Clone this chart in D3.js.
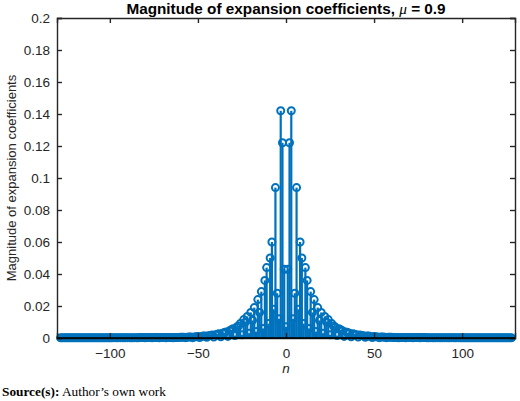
<!DOCTYPE html>
<html>
<head>
<meta charset="utf-8">
<script src="https://cdn.jsdelivr.net/npm/d3@7"></script>
<style>
  body { margin: 0; background: #fff; }
  svg { display: block; }
  .tick-label { font-family: "Liberation Sans", Arial, sans-serif; font-size: 13.5px; fill: #262626; }
</style>
</head>
<body>
<div id="chart"></div>
<script>
// data: stem index n and coefficient magnitude
const nValues = d3.range(-128, 129);

// magnitudes for n = -128 ... -1
const magNeg = [
  0.0001, 0.0001, 0.0001, 0.0001, 0.0001, 0.0001, 0.0001, 0.0001, 0.0001, 0.0001,
  0.0001, 0.0001, 0.0001, 0.0001, 0.0001, 0.0001, 0.0001, 0.0001, 0.0001, 0.0001,
  0.0001, 0.0001, 0.0001, 0.0001, 0.0001, 0.0001, 0.0001, 0.0001, 0.0001, 0.0001,
  0.0002, 0.0002, 0.0001, 0.0002, 0.0002, 0.0002, 0.0001, 0.0002, 0.0002, 0.0002,
  0.0001, 0.0002, 0.0002, 0.0002, 0.0001, 0.0003, 0.0003, 0.0003, 0.0001, 0.0003,
  0.0003, 0.0003, 0.0001, 0.0003, 0.0003, 0.0003, 0.0001, 0.0003, 0.0003, 0.0003,
  0.0001, 0.0003, 0.0003, 0.0003, 0.0001, 0.0003, 0.0003, 0.0003,
  0.0004, 0.0004, 0.0005, 0.0002, 0.0005, 0.0006, 0.0007, 0.0002, 0.0007, 0.0008,
  0.0009, 0.0003, 0.001, 0.0012, 0.0013, 0.0004, 0.0014, 0.0016, 0.0018, 0.0006,
  0.002, 0.0023, 0.0026, 0.0008, 0.003, 0.0034, 0.0038, 0.001, 0.0045, 0.0052,
  0.0058, 0.0015, 0.0068, 0.0075, 0.009, 0.002, 0.0115, 0.010, 0.0135, 0.003,
  0.016, 0.011, 0.019, 0.004, 0.024, 0.016, 0.029, 0.006, 0.036, 0.044,
  0.009, 0.050, 0.060, 0.018, 0.094, 0.028, 0.012, 0.142, 0.122, 0.043
];
// magnitude for n = 0
const magZero = [0.007];
// magnitudes for n = 1 ... 128
const magPos = [
  0.043, 0.122, 0.142, 0.012, 0.028, 0.094, 0.018, 0.060, 0.050, 0.009,
  0.044, 0.036, 0.006, 0.029, 0.016, 0.024, 0.004, 0.019, 0.011, 0.016,
  0.003, 0.0135, 0.010, 0.0115, 0.002, 0.009, 0.0075, 0.0068, 0.0015, 0.0058,
  0.0052, 0.0045, 0.001, 0.0038, 0.0034, 0.003, 0.0008, 0.0026, 0.0023, 0.002,
  0.0006, 0.0018, 0.0016, 0.0014, 0.0004, 0.0013, 0.0012, 0.001, 0.0003, 0.0009,
  0.0008, 0.0007, 0.0002, 0.0007, 0.0006, 0.0005, 0.0002, 0.0005, 0.0004, 0.0004,
  0.0003, 0.0003, 0.0003, 0.0001, 0.0003, 0.0003, 0.0003, 0.0001, 0.0003, 0.0003,
  0.0003, 0.0001, 0.0003, 0.0003, 0.0003, 0.0001, 0.0003, 0.0003, 0.0003, 0.0001,
  0.0002, 0.0002, 0.0002, 0.0001, 0.0002, 0.0002, 0.0002, 0.0001, 0.0002, 0.0002,
  0.0002, 0.0001, 0.0002, 0.0002, 0.0002, 0.0001, 0.0002, 0.0002, 0.0001, 0.0001,
  0.0001, 0.0001, 0.0001, 0.0001, 0.0001, 0.0001, 0.0001, 0.0001, 0.0001, 0.0001,
  0.0001, 0.0001, 0.0001, 0.0001, 0.0001, 0.0001, 0.0001, 0.0001, 0.0001, 0.0001,
  0.0001, 0.0001, 0.0001, 0.0001, 0.0001, 0.0001, 0.0001, 0.0001
];

const xTicks = [-100, -50, 0, 50, 100];
const yTicks = [0, 0.02, 0.04, 0.06, 0.08, 0.1, 0.12, 0.14, 0.16, 0.18, 0.2];

const magnitudes = magNeg.concat(magZero, magPos);
const data = nValues.map((n, i) => ({n: n, v: magnitudes[i]}));

// layout
const W = 520, H = 401;
const margin = {top: 18, right: 5, bottom: 63, left: 57};
const width = W - margin.left - margin.right;
const height = H - margin.top - margin.bottom;
const blue = '#0072BD';
const axisColor = '#262626';

const svg = d3.select('#chart').append('svg')
    .attr('width', W)
    .attr('height', H);

const g = svg.append('g')
    .attr('transform', 'translate(' + margin.left + ',' + margin.top + ')');

const xScale = d3.scaleLinear().domain([-130, 130]).range([0, width]);
const yScale = d3.scaleLinear().domain([0, 0.2]).range([height, 0]);

// stems
g.append('g').selectAll('line')
    .data(data)
    .join('line')
    .attr('x1', d => xScale(d.n))
    .attr('x2', d => xScale(d.n))
    .attr('y1', yScale(0))
    .attr('y2', d => yScale(d.v))
    .attr('stroke', blue)
    .attr('stroke-width', 2.2);

// hollow circle markers
g.append('g').selectAll('circle')
    .data(data)
    .join('circle')
    .attr('cx', d => xScale(d.n))
    .attr('cy', d => yScale(d.v))
    .attr('r', 3.5)
    .attr('fill', 'none')
    .attr('stroke', blue)
    .attr('stroke-width', 2);

// axes with inward ticks, box on all sides
const xAxis = d3.axisBottom(xScale).tickValues(xTicks).tickSize(-5).tickPadding(10)
    .tickFormat(d => d < 0 ? '\u2212' + Math.abs(d) : d);
const xAxisTop = d3.axisTop(xScale).tickValues(xTicks).tickSize(-5).tickFormat('');
const yAxis = d3.axisLeft(yScale).tickValues(yTicks).tickSize(-5).tickPadding(7)
    .tickFormat(d => d === 0 ? '0' : d3.format('')(+d.toFixed(2)));
const yAxisRight = d3.axisRight(yScale).tickValues(yTicks).tickSize(-5).tickFormat('');

function styleAxis(sel) {
    sel.selectAll('path').attr('stroke', axisColor).attr('stroke-width', 1.4);
    sel.selectAll('line').attr('stroke', axisColor).attr('stroke-width', 1.4);
    sel.selectAll('text').attr('class', 'tick-label').attr('fill', axisColor);
    sel.attr('font-size', null).attr('font-family', null);
}

g.append('g').attr('class', 'axis x-axis')
    .attr('transform', 'translate(0,' + height + ')')
    .call(xAxis).call(styleAxis);
g.append('g').attr('class', 'axis x-axis-top')
    .call(xAxisTop).call(styleAxis);
g.append('g').attr('class', 'axis y-axis')
    .call(yAxis).call(styleAxis);
g.append('g').attr('class', 'axis y-axis-right')
    .attr('transform', 'translate(' + width + ',0)')
    .call(yAxisRight).call(styleAxis);

// stem baseline
g.append('line')
    .attr('x1', 0).attr('x2', width)
    .attr('y1', yScale(0)).attr('y2', yScale(0))
    .attr('stroke', '#000').attr('stroke-width', 1.4);

// title
const title = svg.append('text')
    .attr('x', margin.left + width / 2)
    .attr('y', 14)
    .attr('text-anchor', 'middle')
    .attr('font-family', '"Liberation Sans", Arial, sans-serif')
    .attr('font-size', 15.3)
    .attr('font-weight', 'bold')
    .attr('fill', '#000');
title.append('tspan').text('Magnitude of expansion coefficients, ');
title.append('tspan').attr('font-style', 'italic').attr('font-weight', 'normal')
    .attr('font-family', '"Liberation Serif", serif').text('\u03BC');
title.append('tspan').text(' = 0.9');

// axis labels
svg.append('text')
    .attr('transform', 'translate(16,' + (margin.top + height / 2) + ') rotate(-90)')
    .attr('text-anchor', 'middle')
    .attr('font-family', '"Liberation Sans", Arial, sans-serif')
    .attr('font-size', 13)
    .attr('fill', axisColor)
    .text('Magnitude of expansion coefficients');

svg.append('text')
    .attr('x', margin.left + xScale(0))
    .attr('y', 373)
    .attr('text-anchor', 'middle')
    .attr('font-family', '"Liberation Sans", Arial, sans-serif')
    .attr('font-size', 13.5)
    .attr('font-style', 'italic')
    .attr('fill', axisColor)
    .text('n');

// source note
const source = svg.append('text')
    .attr('x', 2)
    .attr('y', 396)
    .attr('font-family', '"Liberation Serif", "Times New Roman", serif')
    .attr('font-size', 13.3)
    .attr('fill', '#000');
source.append('tspan').attr('font-weight', 'bold').text('Source(s):');
source.append('tspan').text(' Author\u2019s own work');
</script>
</body>
</html>
